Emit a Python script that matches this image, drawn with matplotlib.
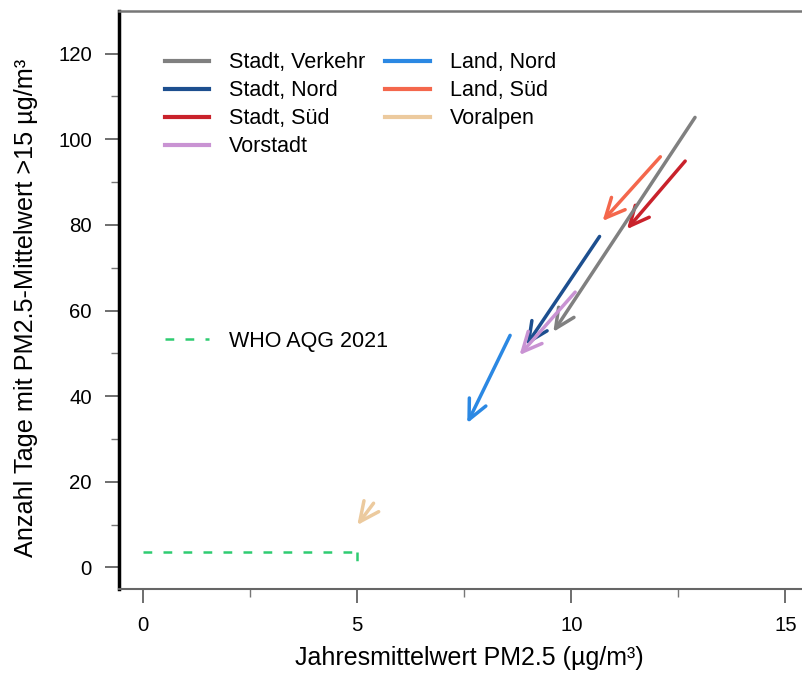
import matplotlib
matplotlib.use("Agg")
import matplotlib.pyplot as plt
from matplotlib.lines import Line2D

plt.rcParams['font.family'] = ['Liberation Sans', 'DejaVu Sans']

# arrows: start (x0, y0) -> end (x1, y1)
groups = ["Stadt, Verkehr", "Stadt, Nord", "Stadt, Süd", "Vorstadt",
          "Land, Nord", "Land, Süd", "Voralpen"]
x_start = [12.89, 10.66, 12.66, 10.09, 8.57, 12.08, 5.38]
y_start = [105.1, 77.3, 94.9, 64.3, 54.2, 95.9, 15.0]
x_end = [9.58, 8.95, 11.30, 8.79, 7.57, 10.73, 5.00]
y_end = [55.0, 51.9, 79.0, 49.6, 33.7, 80.9, 9.9]
colors = ["#808080", "#1d4f8f", "#c9222b", "#c993d3",
          "#2b88e3", "#f4674c", "#ecca9e"]

who_pm = 5
who_days = 3.65

fig = plt.figure(figsize=(8.03, 6.73), dpi=100)
ax = fig.add_axes([0.148, 0.125, 0.886, 0.859])
ax.set_xlim(-0.57, 16.05)
ax.set_ylim(-5, 130)

# draw order so grey sits between others like reference
order = [5, 2, 0, 1, 3, 4, 6]
for i in order:
    ax.annotate("", xy=(x_end[i], y_end[i]), xytext=(x_start[i], y_start[i]),
                arrowprops=dict(arrowstyle="->,head_length=0.7,head_width=0.33",
                                color=colors[i], lw=2.5, mutation_scale=20,
                                shrinkA=0, shrinkB=0, capstyle='round'))

who_color = "#2ecc71"
ax.plot([0, who_pm], [who_days, who_days], color=who_color, lw=1.8,
        dashes=(3.5, 4.5))
ax.plot([who_pm, who_pm], [who_days, 0], color=who_color, lw=1.8,
        dashes=(3.5, 4.5))

# legends
handles = [Line2D([], [], color=c, lw=3) for c in colors]
leg1 = ax.legend(handles, groups, ncol=2, loc="upper left",
                 bbox_to_anchor=(0.037, 0.962), frameon=False, fontsize=15.5,
                 handlelength=2.05, handletextpad=0.93, columnspacing=0.95,
                 labelspacing=0.33)
ax.add_artist(leg1)
who_handle = Line2D([], [], color=who_color, lw=1.8, dashes=(3.5, 4.5))
ax.legend([who_handle], ["WHO AQG 2021"], loc="upper left",
          bbox_to_anchor=(0.037, 0.48), frameon=False, fontsize=15.5,
          handlelength=2.05, handletextpad=0.93)

# axes styling
ax.set_xticks([0, 5, 10, 15])
ax.set_xticks([2.5, 7.5, 12.5], minor=True)
ax.set_yticks(range(0, 121, 20))
ax.set_yticks(range(10, 121, 20), minor=True)
ax.tick_params(axis='both', which='major', labelsize=14.7, length=10,
               width=1.2, color="#555555", pad=9.5)
ax.tick_params(axis='both', which='minor', length=6, width=1.0,
               color="#777777")
ax.spines['right'].set_visible(False)
ax.spines['left'].set_linewidth(2.5)
ax.spines['left'].set_color("black")
ax.spines['top'].set_color("#777777")
ax.spines['top'].set_linewidth(1.8)
ax.spines['bottom'].set_color("#666666")
ax.spines['bottom'].set_linewidth(1.5)

ax.set_xlabel("Jahresmittelwert PM2.5 (µg/m³)", fontsize=18)
ax.set_ylabel("Anzahl Tage mit PM2.5-Mittelwert >15 µg/m³", fontsize=18.2)
ax.xaxis.set_label_coords(0.492, -0.098)
ax.yaxis.set_label_coords(-0.113, 0.486)

fig.savefig("out.png", dpi=100)
